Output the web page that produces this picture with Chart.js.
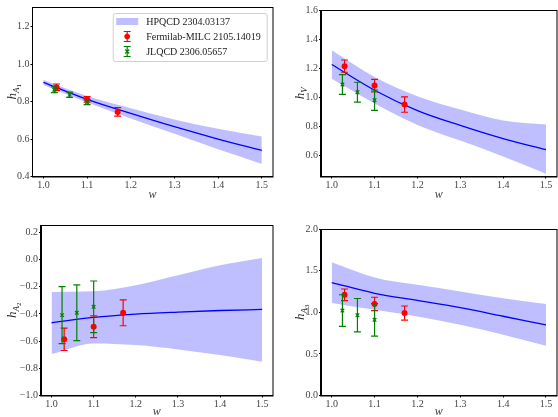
<!DOCTYPE html>
<html>
<head>
<meta charset="utf-8">
<script src="https://cdn.jsdelivr.net/npm/chart.js@4.4.1/dist/chart.umd.min.js"></script>
<style>
    body { margin: 0; background: #fff; overflow: hidden; width: 558px; height: 417px; position: relative; }
    canvas { position: absolute; }
</style>
</head>
<body>
<canvas id="hA1" width="280" height="215" style="left:0;top:0"></canvas>
<canvas id="hV" width="282" height="215" style="left:280px;top:0"></canvas>
<canvas id="hA2" width="280" height="215" style="left:0;top:210px"></canvas>
<canvas id="hA3" width="282" height="215" style="left:280px;top:210px"></canvas>
<script>
const wGrid = [1.0, 1.1, 1.2, 1.3, 1.4, 1.5];
const xTicks = [1.0, 1.1, 1.2, 1.3, 1.4, 1.5];

// HPQCD 2304.03137 central curve and band edges
const hA1Line = [0.903, 0.812, 0.737, 0.666, 0.600, 0.539];
const hA1Upper = [0.917, 0.830, 0.765, 0.705, 0.655, 0.613];
const hA1Lower = [0.888, 0.795, 0.710, 0.628, 0.545, 0.467];

const hVLine = [1.225, 1.048, 0.908, 0.806, 0.715, 0.639];
const hVUpper = [1.324, 1.140, 1.007, 0.915, 0.840, 0.812];
const hVLower = [1.127, 0.957, 0.810, 0.702, 0.593, 0.474];

const hA2Line = [-0.465, -0.426, -0.402, -0.387, -0.375, -0.367];
const hA2Upper = [-0.238, -0.233, -0.189, -0.115, -0.042, 0.012];
const hA2Lower = [-0.695, -0.617, -0.629, -0.661, -0.703, -0.752];

const hA3Line = [1.357, 1.228, 1.142, 1.055, 0.952, 0.849];
const hA3Upper = [1.600, 1.417, 1.329, 1.249, 1.169, 1.100];
const hA3Lower = [1.110, 1.029, 0.949, 0.849, 0.729, 0.597];

// Fermilab-MILC 2105.14019 points
const fnalW = [1.03, 1.10, 1.17];
const fnalA1 = [0.876, 0.812, 0.745];
const fnalA1Err = [0.018, 0.015, 0.023];
const fnalV = [1.214, 1.080, 0.950];
const fnalVErr = [0.042, 0.043, 0.053];
const fnalA2 = [-0.587, -0.495, -0.392];
const fnalA2Err = [0.082, 0.080, 0.095];
const fnalA3 = [1.209, 1.100, 0.990];
const fnalA3Err = [0.070, 0.080, 0.085];

// JLQCD 2306.05657 points
const jlqcdW = [1.025, 1.06, 1.10];
const jlqcdA1 = [0.863, 0.836, 0.797];
const jlqcdA1Err = [0.015, 0.014, 0.013];
const jlqcdV = [1.088, 1.035, 0.980];
const jlqcdVErr = [0.068, 0.068, 0.070];
const jlqcdA2 = [-0.409, -0.392, -0.348];
const jlqcdA2Err = [0.210, 0.205, 0.190];
const jlqcdA3 = [1.020, 0.965, 0.909];
const jlqcdA3Err = [0.190, 0.200, 0.195];

const serif = '"Liberation Serif", "DejaVu Serif", serif';
const bandColor = 'rgba(0, 0, 255, 0.25)';

function pairs(xs, ys) {
    return xs.map((x, i) => ({ x: x, y: ys[i] }));
}

function fmt(v) {
    return v.toFixed(1).replace('-', '\u2212');
}

// matplotlib style caps, drawn just before the markers of a dataset
const errorBars = {
    id: 'errorBars',
    beforeDatasetDraw(chart, args) {
        const ds = chart.data.datasets[args.index];
        if (!ds.yErr) return;
        const ctx = chart.ctx;
        const xs = chart.scales.x;
        const ys = chart.scales.y;
        ctx.save();
        ctx.strokeStyle = ds.borderColor;
        ctx.lineWidth = 1.2;
        ds.data.forEach((p, i) => {
            const px = xs.getPixelForValue(p.x);
            const top = ys.getPixelForValue(p.y + ds.yErr[i]);
            const bot = ys.getPixelForValue(p.y - ds.yErr[i]);
            ctx.beginPath();
            ctx.moveTo(px, top);
            ctx.lineTo(px, bot);
            ctx.moveTo(px - 3.5, top);
            ctx.lineTo(px + 3.5, top);
            ctx.moveTo(px - 3.5, bot);
            ctx.lineTo(px + 3.5, bot);
            ctx.stroke();
        });
        ctx.restore();
    }
};

// top and right spines
const frame = {
    id: 'frame',
    afterDraw(chart) {
        const a = chart.chartArea;
        const ctx = chart.ctx;
        ctx.save();
        ctx.strokeStyle = '#000';
        ctx.lineWidth = 1;
        ctx.strokeRect(Math.round(a.left) - 0.5, Math.round(a.top) + 0.5,
            Math.round(a.right) - Math.round(a.left) + 0.5, Math.round(a.bottom) - Math.round(a.top) - 0.5);
        ctx.restore();
    }
};

// rotated y label with subscripts, e.g. h_{A_1}
const yLabel = {
    id: 'yLabel',
    afterDraw(chart, args, opts) {
        if (!opts.base) return;
        const a = chart.chartArea;
        const ctx = chart.ctx;
        ctx.save();
        ctx.translate(opts.x, (a.top + a.bottom) / 2);
        ctx.rotate(-Math.PI / 2);
        ctx.fillStyle = '#222';
        ctx.textBaseline = 'alphabetic';
        const f1 = 'italic 13px ' + serif;
        const f2 = 'italic 9px ' + serif;
        const f3 = '7px ' + serif;
        ctx.font = f1;
        const w1 = ctx.measureText(opts.base).width;
        ctx.font = f2;
        const w2 = ctx.measureText(opts.sub).width;
        ctx.font = f3;
        const w3 = opts.subsub ? ctx.measureText(opts.subsub).width : 0;
        let x = -(w1 + w2 + w3) / 2;
        ctx.font = f1;
        ctx.fillText(opts.base, x, 4);
        x += w1;
        ctx.font = f2;
        ctx.fillText(opts.sub, x, 7);
        x += w2;
        if (opts.subsub) {
            ctx.font = f3;
            ctx.fillText(opts.subsub, x, 9);
        }
        ctx.restore();
    }
};

// legend box inside the first panel, built from the dataset labels
const legendBox = {
    id: 'legendBox',
    afterDraw(chart) {
        const a = chart.chartArea;
        const ctx = chart.ctx;
        const sets = chart.data.datasets;
        const entries = [sets[1], sets[3], sets[4]];
        const w = 154, h = 48;
        const x0 = a.right - 5.5 - w;
        const y0 = a.top + 6.5;
        ctx.save();
        ctx.fillStyle = 'rgba(255,255,255,0.8)';
        ctx.strokeStyle = '#d0d0d0';
        ctx.lineWidth = 1;
        ctx.beginPath();
        ctx.roundRect(x0, y0, w, h, 2);
        ctx.fill();
        ctx.stroke();
        ctx.font = '10px ' + serif;
        ctx.textBaseline = 'middle';
        entries.forEach((ds, i) => {
            const cy = y0 + 8 + i * 15;
            const cx = x0 + 14;
            if (i === 0) {
                ctx.fillStyle = ds.backgroundColor;
                ctx.fillRect(cx - 11, cy - 3.5, 22, 7);
            } else {
                ctx.strokeStyle = ds.borderColor;
                ctx.lineWidth = 1.2;
                ctx.beginPath();
                ctx.moveTo(cx, cy - 5);
                ctx.lineTo(cx, cy + 5);
                ctx.moveTo(cx - 3.5, cy - 5);
                ctx.lineTo(cx + 3.5, cy - 5);
                ctx.moveTo(cx - 3.5, cy + 5);
                ctx.lineTo(cx + 3.5, cy + 5);
                ctx.stroke();
                if (i === 1) {
                    ctx.fillStyle = ds.backgroundColor;
                    ctx.beginPath();
                    ctx.arc(cx, cy, 2.8, 0, Math.PI * 2);
                    ctx.fill();
                } else {
                    ctx.beginPath();
                    ctx.moveTo(cx - 2, cy - 2);
                    ctx.lineTo(cx + 2, cy + 2);
                    ctx.moveTo(cx - 2, cy + 2);
                    ctx.lineTo(cx + 2, cy - 2);
                    ctx.stroke();
                }
            }
            ctx.fillStyle = '#222';
            ctx.fillText(ds.label, x0 + 33, cy + 0.5);
        });
        ctx.restore();
    }
};

function makePanel(canvasId, spec) {
    const ctx = document.getElementById(canvasId).getContext('2d');
    const tickFont = { family: serif, size: 10 };
    const data = {
        datasets: [
            {
                label: 'band lower',
                data: pairs(wGrid, spec.lower),
                borderWidth: 0,
                pointRadius: 0,
                fill: false,
                cubicInterpolationMode: 'monotone',
                order: 5,
            },
            {
                label: 'HPQCD 2304.03137',
                data: pairs(wGrid, spec.upper),
                borderWidth: 0,
                pointRadius: 0,
                fill: '-1',
                backgroundColor: bandColor,
                cubicInterpolationMode: 'monotone',
                order: 4,
            },
            {
                label: 'HPQCD central',
                data: pairs(wGrid, spec.line),
                borderColor: '#0000ff',
                borderWidth: 1.3,
                pointRadius: 0,
                fill: false,
                cubicInterpolationMode: 'monotone',
                order: 3,
            },
            {
                label: 'Fermilab-MILC 2105.14019',
                data: pairs(fnalW, spec.fnal),
                yErr: spec.fnalErr,
                showLine: false,
                pointStyle: 'circle',
                pointRadius: 3,
                backgroundColor: '#ff0000',
                borderColor: '#ff0000',
                borderWidth: 0,
                order: 2,
            },
            {
                label: 'JLQCD 2306.05657',
                data: pairs(jlqcdW, spec.jlqcd),
                yErr: spec.jlqcdErr,
                showLine: false,
                pointStyle: 'crossRot',
                pointRadius: 2.5,
                borderColor: '#008000',
                borderWidth: 1.3,
                order: 1,
            },
        ]
    };
    const plugins = [errorBars, frame, yLabel];
    if (spec.legend) plugins.push(legendBox);
    return new Chart(ctx, {
        type: 'line',
        data: data,
        plugins: plugins,
        options: {
            responsive: false,
            animation: false,
            events: [],
            layout: { padding: { top: spec.padTop, right: spec.padRight, left: 0, bottom: 0 } },
            plugins: {
                legend: { display: false },
                tooltip: { enabled: false },
                yLabel: { base: 'h', sub: spec.sub, subsub: spec.subsub, x: spec.labelX },
            },
            scales: {
                x: {
                    type: 'linear',
                    bounds: 'data',
                    min: 0.975,
                    max: 1.525,
                    afterBuildTicks: (s) => { s.ticks = xTicks.map((v) => ({ value: v })); },
                    afterFit: (s) => { s.height = spec.xHeight; },
                    ticks: { callback: fmt, font: tickFont, color: '#444', padding: 1, maxRotation: 0 },
                    grid: { drawOnChartArea: false, drawTicks: true, tickLength: 2, tickColor: '#000' },
                    border: { color: '#000', width: 1 },
                    title: {
                        display: true,
                        text: 'w',
                        color: '#444',
                        font: { family: serif, size: 12, style: 'italic' },
                        padding: { top: 0, bottom: spec.titlePad },
                    },
                },
                y: {
                    type: 'linear',
                    bounds: 'data',
                    min: spec.yMin,
                    max: spec.yMax,
                    afterBuildTicks: (s) => { s.ticks = spec.yTicks.map((v) => ({ value: v })); },
                    afterFit: (s) => { s.width = spec.yWidth; },
                    ticks: { callback: fmt, font: tickFont, color: '#444', padding: 1 },
                    grid: { drawOnChartArea: false, drawTicks: true, tickLength: 2, tickColor: '#000' },
                    border: { color: '#000', width: 1 },
                },
            },
        },
    });
}

makePanel('hA1', {
    line: hA1Line, upper: hA1Upper, lower: hA1Lower,
    fnal: fnalA1, fnalErr: fnalA1Err, jlqcd: jlqcdA1, jlqcdErr: jlqcdA1Err,
    yMin: 0.4, yMax: 1.305, yTicks: [0.4, 0.6, 0.8, 1.0, 1.2],
    sub: 'A', subsub: '1', legend: true,
    padTop: 6, padRight: 7.3, yWidth: 32.5, xHeight: 38.5, titlePad: 13.4, labelX: 12,
});

makePanel('hV', {
    line: hVLine, upper: hVUpper, lower: hVLower,
    fnal: fnalV, fnalErr: fnalVErr, jlqcd: jlqcdV, jlqcdErr: jlqcdVErr,
    yMin: 0.455, yMax: 1.6, yTicks: [0.6, 0.8, 1.0, 1.2, 1.4, 1.6],
    sub: 'V', subsub: '',
    padTop: 10, padRight: 2, yWidth: 41, xHeight: 38.5, titlePad: 13.4, labelX: 20,
});

makePanel('hA2', {
    line: hA2Line, upper: hA2Upper, lower: hA2Lower,
    fnal: fnalA2, fnalErr: fnalA2Err, jlqcd: jlqcdA2, jlqcdErr: jlqcdA2Err,
    yMin: -1.0, yMax: 0.254, yTicks: [-1.0, -0.8, -0.6, -0.4, -0.2, 0.0, 0.2],
    sub: 'A', subsub: '2',
    padTop: 15, padRight: 7.3, yWidth: 41, xHeight: 29.5, titlePad: 6.1, labelX: 12,
});

makePanel('hA3', {
    line: hA3Line, upper: hA3Upper, lower: hA3Lower,
    fnal: fnalA3, fnalErr: fnalA3Err, jlqcd: jlqcdA3, jlqcdErr: jlqcdA3Err,
    yMin: 0.0, yMax: 2.0, yTicks: [0.0, 0.5, 1.0, 1.5, 2.0],
    sub: 'A', subsub: '3',
    padTop: 19, padRight: 2, yWidth: 41, xHeight: 29.5, titlePad: 6.1, labelX: 20,
});
</script>
</body>
</html>
